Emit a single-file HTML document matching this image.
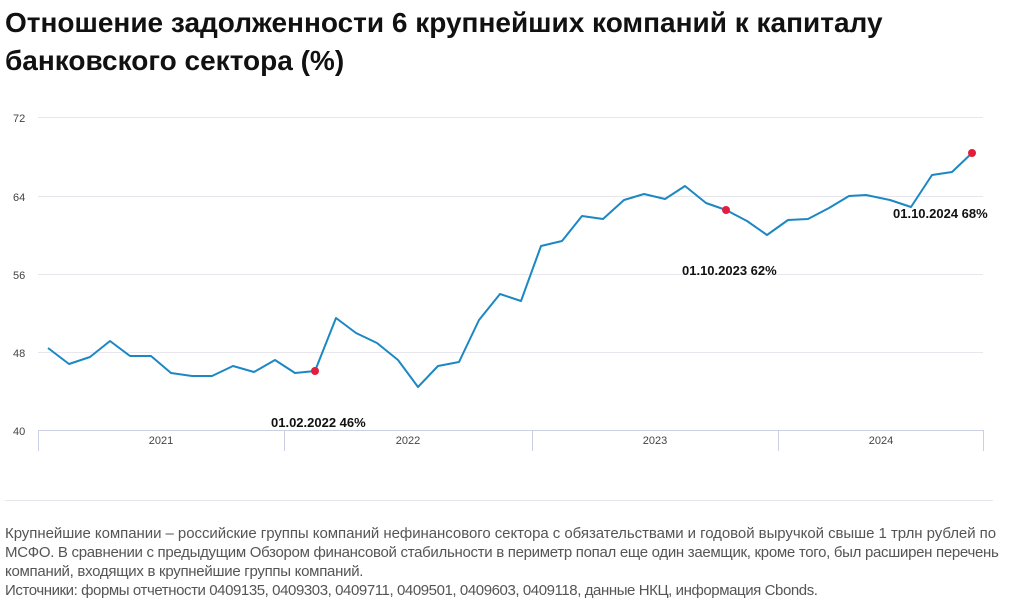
<!DOCTYPE html>
<html><head><meta charset="utf-8"><style>
body{margin:0;width:1024px;height:606px;background:#fff;font-family:"Liberation Sans",sans-serif;overflow:hidden;position:relative}
h1{position:absolute;left:5px;top:4px;margin:0;font-size:28px;line-height:38px;font-weight:bold;color:#111;white-space:nowrap;letter-spacing:0}
.foot{position:absolute;left:5px;top:524px;font-size:15px;line-height:19px;color:#555;white-space:nowrap;letter-spacing:0}
.foot span{display:block}
</style></head><body>
<h1>Отношение задолженности 6 крупнейших компаний к капиталу<br>банковского сектора (%)</h1>
<svg width="1024" height="606" style="position:absolute;left:0;top:0">
<g stroke="#e6e6ec" stroke-width="1">
<line x1="38" y1="117.5" x2="983" y2="117.5"/><line x1="38" y1="196.5" x2="983" y2="196.5"/>
<line x1="38" y1="274.5" x2="983" y2="274.5"/><line x1="38" y1="352.5" x2="983" y2="352.5"/>
</g>
<g stroke="#ccd0e4" stroke-width="1">
<line x1="38" y1="430.5" x2="984" y2="430.5"/>
<line x1="38.5" y1="430" x2="38.5" y2="451"/><line x1="284.5" y1="430" x2="284.5" y2="451"/>
<line x1="532.5" y1="430" x2="532.5" y2="451"/><line x1="778.5" y1="430" x2="778.5" y2="451"/>
<line x1="983.5" y1="430" x2="983.5" y2="451"/>
</g>
<line x1="5" y1="500.5" x2="993" y2="500.5" stroke="#e6e6ec"/>
<g font-size="11" fill="#444" font-family="Liberation Sans,sans-serif">
<text x="13" y="122">72</text><text x="13" y="201">64</text><text x="13" y="279">56</text><text x="13" y="357">48</text><text x="13" y="435">40</text>
<text x="161" y="444" text-anchor="middle">2021</text><text x="408" y="444" text-anchor="middle">2022</text>
<text x="655" y="444" text-anchor="middle">2023</text><text x="881" y="444" text-anchor="middle">2024</text>
</g>
<polyline fill="none" stroke="#1b88c4" stroke-width="2" stroke-linejoin="round" points="48,348 69,364 90,357 110,341 130,356 151,356 171,373 192,376 212,376 233,366 254,372 275,360 295,373 315,371 336,318 356,333 377,343 398,360 418,387 438,366 459,362 479,320 500,294 521,301 541,246 562,241 582,216 603,219 624,200 644,194 665,199 685,186 706,203 726,210 747,221 767,235 788,220 808,219 829,208 849,196 866,195 890,200 911,207 932,175 952,172 972,153"/>
<g fill="#e31d3c"><circle cx="315" cy="371" r="4"/><circle cx="726" cy="210" r="4"/><circle cx="972" cy="153" r="4"/></g>
<g font-size="13" font-weight="bold" fill="#111" font-family="Liberation Sans,sans-serif">
<text x="271" y="427">01.02.2022 46%</text><text x="682" y="275">01.10.2023 62%</text><text x="893" y="218">01.10.2024 68%</text>
</g>
</svg>
<div class="foot"><span style="letter-spacing:-0.05px">Крупнейшие компании – российские группы компаний нефинансового сектора с обязательствами и годовой выручкой свыше 1 трлн рублей по</span><span style="letter-spacing:-0.3px">МСФО. В сравнении с предыдущим Обзором финансовой стабильности в периметр попал еще один заемщик, кроме того, был расширен перечень</span><span style="letter-spacing:-0.28px">компаний, входящих в крупнейшие группы компаний.</span><span style="letter-spacing:-0.42px">Источники: формы отчетности 0409135, 0409303, 0409711, 0409501, 0409603, 0409118, данные НКЦ, информация Cbonds.</span></div>
</body></html>
